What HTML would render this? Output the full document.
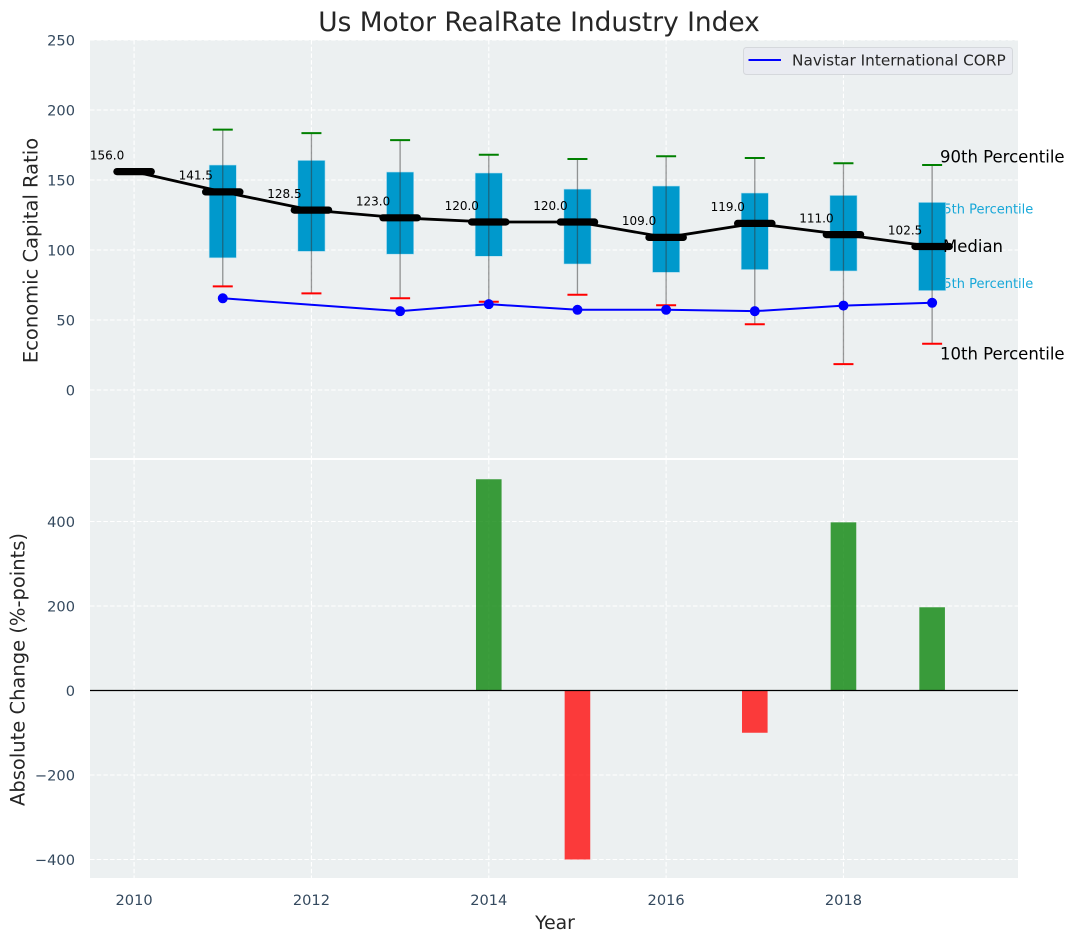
<!DOCTYPE html>
<html>
<head>
<meta charset="utf-8">
<title>Us Motor RealRate Industry Index</title>
<style>
html,body{margin:0;padding:0;background:#fff;}
svg{display:block;font-family:"DejaVu Sans","Liberation Sans",sans-serif;}
</style>
</head>
<body>
<svg id="chart" width="1075" height="942" viewBox="0 0 1075 942" xmlns="http://www.w3.org/2000/svg"></svg>
<script>
const years = [2010, 2011, 2012, 2013, 2014, 2015, 2016, 2017, 2018, 2019];
const medians = [156, 141.5, 128.5, 123, 120, 120, 109, 119, 111, 102.5];
const boxYears = [2011, 2012, 2013, 2014, 2015, 2016, 2017, 2018, 2019];
const p90 = [186, 183.5, 178.5, 168, 165, 167, 165.7, 162, 160.7];
const p75 = [160.7, 164, 155.7, 155, 143.5, 145.7, 140.7, 139, 134];
const p25 = [94.4, 99, 97, 95.5, 90, 84, 86, 85, 71];
const p10 = [74, 69, 65.5, 63, 68, 60.5, 47, 18.5, 33];
const companyYears = [2011, 2013, 2014, 2015, 2016, 2017, 2018, 2019];
const companyValues = [65.5, 56.3, 61.3, 57.3, 57.3, 56.3, 60.3, 62.3];
const changeYears = [2014, 2015, 2017, 2018, 2019];
const changeValues = [500, -400, -100, 398, 197];
const xTicks = [2010, 2012, 2014, 2016, 2018];
const topYTicks = [0, 50, 100, 150, 200, 250];
const bottomYTicks = [-400, -200, 0, 200, 400];

const NS = 'http://www.w3.org/2000/svg';
const svg = document.getElementById('chart');
const L = 90, R = 1018, T1 = 40, B1 = 458, T2 = 460, B2 = 878;
const xp = v => 134.1 + (v - 2010) * 88.67;
const y1 = v => 390 - v * 1.4;
const y2 = v => 690.5 - v * 0.4225;

function mk(tag, props, parent) {
  const e = document.createElementNS(NS, tag);
  for (const k in props) e.setAttribute(k, props[k]);
  (parent || svg).appendChild(e);
  return e;
}
function label(str, props) {
  const e = mk('text', props);
  e.textContent = str;
  return e;
}
const tickColor = '#34495e';
let el;

el = mk('rect', {x: L, y: T1, width: R - L, height: B1 - T1, fill: '#ecf0f1'});


el = mk('rect', {x: L, y: T2, width: R - L, height: B2 - T2, fill: '#ecf0f1'});



const gridStyle = {stroke: '#ffffff', 'stroke-width': 1.1, 'stroke-dasharray': '4.5 2.2'};
xTicks.forEach(t => {
  el = mk('line', Object.assign({x1: xp(t), x2: xp(t), y1: T1, y2: B1}, gridStyle));
  
  
  el = mk('line', Object.assign({x1: xp(t), x2: xp(t), y1: T2, y2: B2}, gridStyle));
  
  
  el = label(String(t), {x: xp(t), y: 905, 'text-anchor': 'middle', 'font-size': 14.6, fill: tickColor});
  
  
});
topYTicks.forEach(t => {
  el = mk('line', Object.assign({x1: L, x2: R, y1: y1(t), y2: y1(t)}, gridStyle));
  
  
  el = label(String(t), {x: 75, y: y1(t) + 5.3, 'text-anchor': 'end', 'font-size': 14.6, fill: tickColor});
  
  
});
bottomYTicks.forEach(t => {
  el = mk('line', Object.assign({x1: L, x2: R, y1: y2(t), y2: y2(t)}, gridStyle));
  
  
  el = label(String(t).replace('-', '\u2212'), {x: 75, y: y2(t) + 5.3, 'text-anchor': 'end', 'font-size': 14.6, fill: tickColor});
  
  
});

/* percentile labels sit beneath the last box */
const lastI = boxYears.length - 1;
el = label('75th Percentile', {x: xp(2019) + 3, y: y1(p75[lastI]) + 11, 'font-size': 13, fill: '#00a0d6', opacity: 0.9});


el = label('25th Percentile', {x: xp(2019) + 3, y: y1(p25[lastI]) - 2.5, 'font-size': 13, fill: '#00a0d6', opacity: 0.9});



/* boxes */
boxYears.forEach((yr, i) => {
  const cx = xp(yr);
  el = mk('rect', {x: cx - 13.6, y: y1(p75[i]), width: 27.2, height: y1(p25[i]) - y1(p75[i]), fill: '#0099cc', stroke: '#b5dff0', 'stroke-width': 0.6});
  
  
  el = mk('line', {x1: cx, x2: cx, y1: y1(p90[i]), y2: y1(p10[i]), stroke: '#333', 'stroke-opacity': 0.5, 'stroke-width': 1.3});
  
  
  el = mk('line', {x1: cx - 10, x2: cx + 10, y1: y1(p90[i]), y2: y1(p90[i]), stroke: '#008000', 'stroke-width': 2});
  
  
  el = mk('line', {x1: cx - 10, x2: cx + 10, y1: y1(p10[i]), y2: y1(p10[i]), stroke: '#ff0000', 'stroke-width': 2});
  
  
});

/* company series */
el = mk('polyline', {points: companyYears.map((yr, i) => xp(yr) + ',' + y1(companyValues[i])).join(' '), fill: 'none', stroke: '#0000ff', 'stroke-width': 2});


companyYears.forEach((yr, i) => {
  el = mk('circle', {cx: xp(yr), cy: y1(companyValues[i]), r: 5, fill: '#0000ff'});
  
  
});

/* median line */
el = mk('polyline', {points: years.map((yr, i) => xp(yr) + ',' + y1(medians[i])).join(' '), fill: 'none', stroke: '#000', 'stroke-width': 2.8});


years.forEach((yr, i) => {
  const cx = xp(yr);
  el = mk('line', {x1: cx - 17.2, x2: cx + 17.2, y1: y1(medians[i]), y2: y1(medians[i]), stroke: '#000', 'stroke-width': 7.2, 'stroke-linecap': 'round'});
  
  
  el = label(medians[i].toFixed(1), {x: cx - 44.2, y: y1(medians[i]) - 12.2, 'font-size': 12, fill: '#000'});
  
  
});

/* annotations */
el = label('90th Percentile', {x: 940, y: 162.5, 'font-size': 16.5, fill: '#000'});


el = label('Median', {x: 943, y: 252, 'font-size': 16.5, fill: '#000'});


el = label('10th Percentile', {x: 940, y: 359.5, 'font-size': 16.5, fill: '#000'});



/* change bars */
changeYears.forEach((yr, i) => {
  const v = changeValues[i];
  const top = v >= 0 ? y2(v) : y2(0);
  el = mk('rect', {x: xp(yr) - 12.8, y: top, width: 25.6, height: Math.abs(y2(v) - y2(0)), fill: v >= 0 ? '#008000' : '#ff0000', 'fill-opacity': 0.76});
  
  
});
el = mk('line', {x1: L, x2: R, y1: y2(0), y2: y2(0), stroke: '#000', 'stroke-width': 1.2});



/* legend */
el = mk('rect', {x: 743.5, y: 47.5, width: 269, height: 27, rx: 3, fill: '#e9ebf1', stroke: '#d5d8dc', 'stroke-width': 1});


el = mk('line', {x1: 748.5, x2: 781, y1: 60, y2: 60, stroke: '#0000ff', 'stroke-width': 2});


el = label('Navistar International CORP', {x: 792, y: 65.5, 'font-size': 15.3, fill: '#262626'});



/* titles */
el = label('Us Motor RealRate Industry Index', {x: 539, y: 31, 'text-anchor': 'middle', 'font-size': 26.4, fill: '#262626'});


el = label('Year', {x: 555, y: 929, 'text-anchor': 'middle', 'font-size': 18.8, fill: '#262626'});


el = label('Economic Capital Ratio', {x: 0, y: 0, 'text-anchor': 'middle', 'font-size': 19.5, fill: '#262626', transform: 'translate(37.5,250.5) rotate(-90)'});


el = label('Absolute Change (%-points)', {x: 0, y: 0, 'text-anchor': 'middle', 'font-size': 19.5, fill: '#262626', transform: 'translate(24.5,669.5) rotate(-90)'});


</script>
</body>
</html>
